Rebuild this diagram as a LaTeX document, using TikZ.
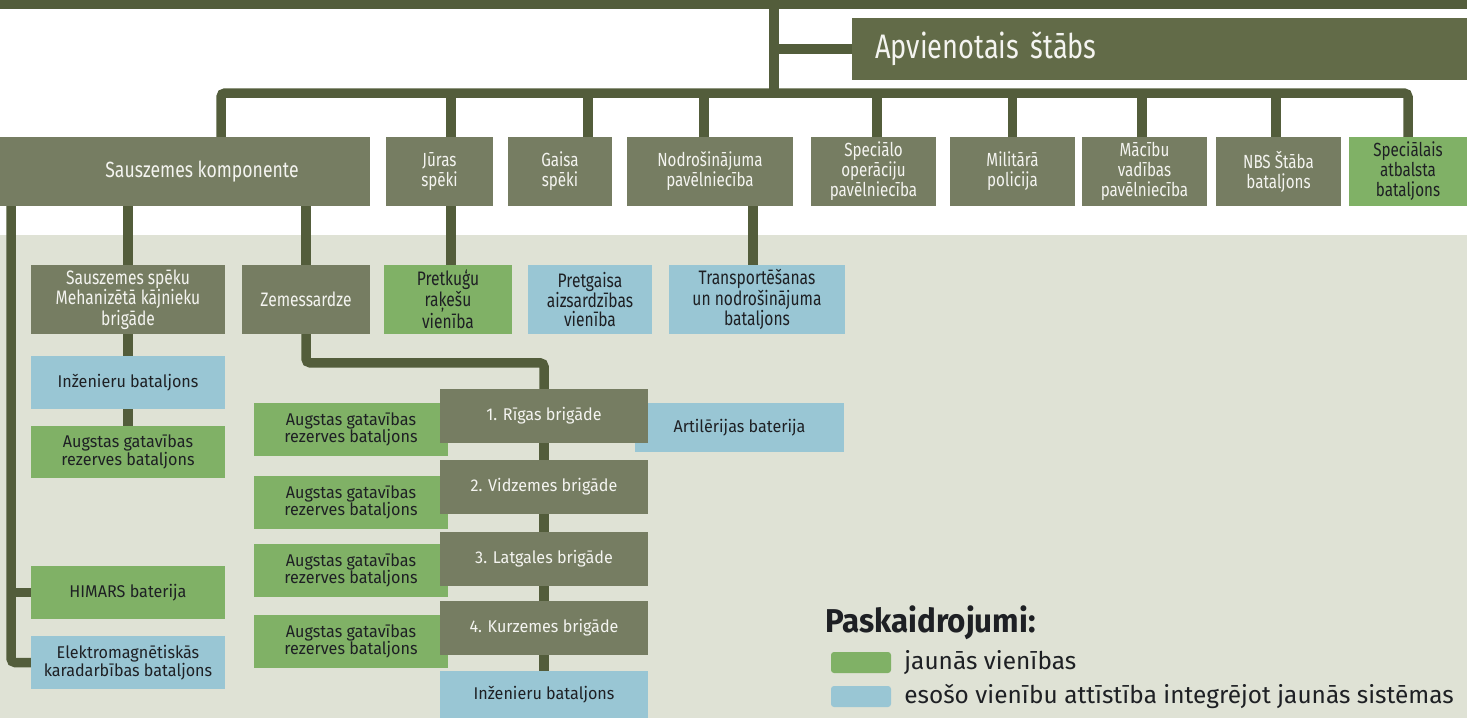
\documentclass[tikz,border=0pt]{standalone}
\usepackage{fontspec}
\setmainfont{Fira Sans}[FakeStretch=0.8]
\newfontfamily\widefont{Fira Sans}[FakeStretch=0.95]
\newfontfamily\plainfont{Fira Sans}
\definecolor{linegreen}{HTML}{535D3B}
\definecolor{hqgreen}{HTML}{626B48}
\definecolor{unitgray}{HTML}{767D62}
\definecolor{newgreen}{HTML}{80B166}
\definecolor{upblue}{HTML}{99C6D4}
\definecolor{panelbg}{HTML}{DFE2D5}
\definecolor{inkdark}{HTML}{1E2024}
\definecolor{whiteish}{HTML}{F4F4F0}

\begin{document}
\begin{tikzpicture}
	[x=1pt, y=-1pt,
	every node/.style={rectangle,inner sep=0pt,align=center},
	link/.style={draw=linegreen,line width=9.5pt,rounded corners=4pt},
	hqbox/.style={fill=hqgreen,text=whiteish,minimum height=62pt,text width=569pt,inner xsep=23pt,align=left,font=\fontsize{34}{38}\selectfont},
	toprow/.style={minimum height=69pt,font=\fontsize{19}{20}\selectfont},
	midrow/.style={minimum height=69pt,font=\fontsize{19.5}{18.7}\selectfont},
	lowrow/.style={minimum height=53pt,font=\widefont\fontsize{17}{17.7}\selectfont},
	oldunit/.style={fill=unitgray,text=whiteish},
	newunit/.style={fill=newgreen,text=inkdark},
	upunit/.style={fill=upblue,text=inkdark},
	keytext/.style={anchor=west,text=inkdark,font=\plainfont\fontsize{24.4}{28}\selectfont}]
	\useasboundingbox (0,0) rectangle (1467,718);
	\fill[panelbg] (0,235) rectangle (1467,718);
	% headquarters and first level
	\node (hq) [hqbox,anchor=west] at (852,49) {Apvienotais štābs};
	\node (land) [oldunit,toprow,minimum width=370pt,font=\fontsize{22}{24}\selectfont] at (185,171.5) {\hspace*{34pt}Sauszemes komponente};
	\node (navy) [oldunit,toprow,minimum width=107pt] at (439.5,171.5) {Jūras\\spēki};
	\node (air) [oldunit,toprow,minimum width=104pt] at (560,171.5) {Gaisa\\spēki};
	\node (supp) [oldunit,toprow,minimum width=166pt] at (710,171.5) {Nodrošinājuma\\pavēlniecība};
	\node (sof) [oldunit,toprow,minimum width=125pt] at (873.5,171.5) {Speciālo\\operāciju\\pavēlniecība};
	\node (mp) [oldunit,toprow,minimum width=125pt] at (1012.5,171.5) {Militārā\\policija};
	\node (trng) [oldunit,toprow,minimum width=125pt] at (1144.5,171.5) {Mācību\\vadības\\pavēlniecība};
	\node (nbs) [oldunit,toprow,minimum width=125pt] at (1278.5,171.5) {NBS Štāba\\bataljons};
	\node (ssb) [newunit,toprow,minimum width=118pt] at (1408,171.5) {Speciālais\\atbalsta\\bataljons};
	% second level
	\node (mech) [oldunit,midrow,minimum width=194pt] at (128,299.5) {Sauszemes spēku\\Mehanizētā kājnieku\\brigāde};
	\node (zs) [oldunit,midrow,minimum width=128pt] at (306,299.5) {Zemessardze};
	\node (asm) [newunit,midrow,minimum width=128pt] at (448,299.5) {Pretkuģu\\raķešu\\vienība};
	\node (ad) [upunit,midrow,minimum width=124pt] at (590,299.5) {Pretgaisa\\aizsardzības\\vienība};
	\node (tsb) [upunit,midrow,minimum width=176pt] at (757,299.5) {Transportēšanas\\un nodrošinājuma\\bataljons};
	% mechanised brigade column
	\node (eng1) [upunit,lowrow,minimum width=194pt] at (128,382.5) {Inženieru bataljons};
	\node (agr0) [newunit,lowrow,minimum width=194pt,minimum height=52pt] at (128,452) {Augstas gatavības\\rezerves bataljons};
	\node (himars) [newunit,lowrow,minimum width=194pt] at (128,592.5) {HIMARS baterija};
	\node (ew) [upunit,lowrow,minimum width=194pt] at (128,662.5) {Elektromagnētiskās\\karadarbības bataljons};
	% national guard brigades
	\node (ag1) [newunit,lowrow,minimum width=194pt] at (351,429.5) {Augstas gatavības\\rezerves bataljons};
	\node (ag2) [newunit,lowrow,minimum width=194pt] at (351,502.5) {Augstas gatavības\\rezerves bataljons};
	\node (ag3) [newunit,lowrow,minimum width=194pt] at (351,570.5) {Augstas gatavības\\rezerves bataljons};
	\node (ag4) [newunit,lowrow,minimum width=194pt] at (351,641.5) {Augstas gatavības\\rezerves bataljons};
	\node (art) [upunit,lowrow,minimum width=209pt,minimum height=49pt] at (739.5,427.5) {Artilērijas baterija};
	\node (b1) [oldunit,lowrow,minimum width=208pt,minimum height=54pt] at (544,416) {1. Rīgas brigāde};
	\node (b2) [oldunit,lowrow,minimum width=208pt,minimum height=54pt] at (544,487) {2. Vidzemes brigāde};
	\node (b3) [oldunit,lowrow,minimum width=208pt,minimum height=54pt] at (544,559) {3. Latgales brigāde};
	\node (b4) [oldunit,lowrow,minimum width=208pt,minimum height=54pt] at (544,628) {4. Kurzemes brigāde};
	\node (eng2) [upunit,lowrow,minimum width=208pt,minimum height=47pt] at (544,694.5) {Inženieru bataljons};
	% connectors
	\coordinate (barl) at (0,4.5);
	\coordinate (barr) at (1467,4.5);
	\coordinate (trunk) at (774,4.5);
	\coordinate (bus) at (774,93);
	\draw[link,rounded corners=0pt] (barl) -- (barr);
	\draw[link] (trunk) -- (bus);
	\draw[link] (trunk |- hq.west) -- (hq.west);
	\draw[link] ([xshift=36pt]land.north) |- (bus) -| (ssb.north);
	\draw[link] ([xshift=11.5pt]navy.north) -- ([xshift=11.5pt]navy.north |- bus);
	\draw[link] ([xshift=28pt]air.north) -- ([xshift=28pt]air.north |- bus);
	\draw[link] ([xshift=-6pt]supp.north) -- ([xshift=-6pt]supp.north |- bus);
	\draw[link] ([xshift=3.5pt]sof.north) -- ([xshift=3.5pt]sof.north |- bus);
	\draw[link] (mp.north) -- (mp.north |- bus);
	\draw[link] ([xshift=-2.5pt]trng.north) -- ([xshift=-2.5pt]trng.north |- bus);
	\draw[link] ([xshift=-2.5pt]nbs.north) -- ([xshift=-2.5pt]nbs.north |- bus);
	\draw[link] (mech.north |- land.south) -- (mech.north);
	\draw[link] (zs.north |- land.south) -- (zs.north);
	\draw[link] ([xshift=11.5pt]navy.south) -- ([xshift=11.5pt]navy.south |- asm.north);
	\draw[link] ([xshift=-4pt]tsb.north) -- ([xshift=-4pt]tsb.north |- supp.south);
	\draw[link] (mech.south) -- (eng1.north);
	\draw[link] (eng1.south) -- (agr0.north);
	\draw[link] ([xshift=-174pt]land.south) |- (ew.west);
	\draw[link] ([xshift=-174pt]land.south |- himars.west) -- (himars.west);
	\draw[link] (zs.south) |- ([yshift=26pt]b1.north) -- (b1.north);
	\draw[link] (b1.south) -- (b2.north);
	\draw[link] (b2.south) -- (b3.north);
	\draw[link] (b3.south) -- (b4.north);
	\draw[link] (b4.south) -- (eng2.north);
	% legend
	\node (keyhead) [anchor=west,text=inkdark,font=\widefont\fontsize{33}{36}\selectfont\bfseries] at (825,623) {Paskaidrojumi:};
	\node (keynew) [newunit,minimum width=60pt,minimum height=21pt,rounded corners=3pt] at (861,662.5) {};
	\node (keyup) [upunit,minimum width=60pt,minimum height=21pt,rounded corners=3pt] at (861,696.5) {};
	\node (keynewtxt) [keytext] at ([xshift=13pt]keynew.east) {jaunās vienības};
	\node (keyuptxt) [keytext] at ([xshift=13pt]keyup.east) {esošo vienību attīstība integrējot jaunās sistēmas};
\end{tikzpicture}
\end{document}
